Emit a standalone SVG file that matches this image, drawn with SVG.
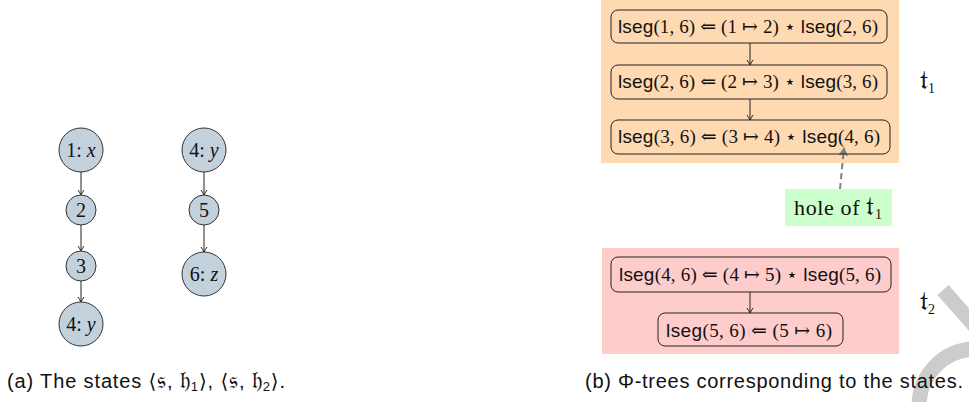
<svg xmlns="http://www.w3.org/2000/svg" width="969" height="402" viewBox="0 0 969 402">
<defs>
<marker id="arr" markerUnits="userSpaceOnUse" markerWidth="10" markerHeight="10" refX="6" refY="4" orient="auto">
<path d="M1,1 Q4,3 6,4 Q4,5 1,7" fill="none" stroke="#222" stroke-width="1"/>
</marker>
<marker id="garr" markerUnits="userSpaceOnUse" markerWidth="12" markerHeight="12" refX="8" refY="5" orient="auto">
<path d="M0,0 L9,5 L0,10 L2,5 Z" fill="#808080"/>
</marker>
<style>
.st{fill:#c3d1dc;stroke:#333;stroke-width:1}
.nt{font-family:"Liberation Serif",serif;font-size:20px;fill:#111;text-anchor:middle}
.it{font-style:italic}
.bx{fill:none;stroke:#222;stroke-width:1}
.ft{font-family:"Liberation Serif","DejaVu Serif",serif;font-size:19px;fill:#111}
.sf{font-family:"Liberation Sans",sans-serif}
.fk{font-family:"DejaVu Serif",serif}
.cap{font-family:"Liberation Sans","DejaVu Sans",sans-serif;font-size:20px;fill:#111}
.e{stroke:#222;stroke-width:1;fill:none;marker-end:url(#arr)}
</style>
</defs>
<rect width="969" height="402" fill="#fff"/>
<!-- watermark -->
<g fill="none" stroke="#cccccc" stroke-width="15">
<path d="M943,290 L980,332"/>
<path d="M919,405 A57,57 0 0 1 976,349"/>
</g>
<!-- backgrounds -->
<rect x="601" y="0" width="298" height="163" fill="#ffd9b2"/>
<rect x="602" y="248" width="297" height="106" fill="#ffcccc"/>
<rect x="785" y="189" width="107" height="37" fill="#ccffcc"/>
<g id="connectors">
<line class="e" x1="81" y1="172" x2="81" y2="195"/>
<line class="e" x1="81" y1="225" x2="81" y2="251"/>
<line class="e" x1="81" y1="281" x2="81" y2="302"/>
<line class="e" x1="204" y1="172" x2="204" y2="195"/>
<line class="e" x1="204" y1="225" x2="204" y2="252"/>
<line class="e" x1="750" y1="43" x2="750" y2="65"/>
<line class="e" x1="750" y1="99" x2="750" y2="120"/>
<line class="e" x1="750" y1="292" x2="750" y2="313"/>
<line x1="840" y1="189" x2="844" y2="148" stroke="#808080" stroke-width="2" stroke-dasharray="6,4" marker-end="url(#garr)"/>
</g>
<g id="n1x"><circle class="st" cx="81" cy="150" r="22"/><text class="nt" x="81" y="157">1: <tspan class="it">x</tspan></text></g>
<g id="n2"><circle class="st" cx="81" cy="210" r="15"/><text class="nt" x="81" y="217">2</text></g>
<g id="n3"><circle class="st" cx="81" cy="266" r="15"/><text class="nt" x="81" y="273">3</text></g>
<g id="n4y"><circle class="st" cx="81" cy="324" r="22"/><text class="nt" x="81" y="331">4: <tspan class="it">y</tspan></text></g>
<g id="m4y"><circle class="st" cx="204" cy="150" r="22"/><text class="nt" x="204" y="157">4: <tspan class="it">y</tspan></text></g>
<g id="m5"><circle class="st" cx="204" cy="210" r="15"/><text class="nt" x="204" y="217">5</text></g>
<g id="m6z"><circle class="st" cx="204" cy="274" r="22"/><text class="nt" x="204" y="281">6: <tspan class="it">z</tspan></text></g>
<g id="b1"><rect class="bx" x="611" y="10" width="276" height="33" rx="7"/><text class="ft" x="618" y="33" textLength="260"><tspan class="sf">lseg</tspan>(1, 6) ⇐ (1 ↦ 2) ⋆ <tspan class="sf">lseg</tspan>(2, 6)</text></g>
<g id="b2"><rect class="bx" x="611" y="65" width="276" height="34" rx="7"/><text class="ft" x="618" y="88" textLength="260"><tspan class="sf">lseg</tspan>(2, 6) ⇐ (2 ↦ 3) ⋆ <tspan class="sf">lseg</tspan>(3, 6)</text></g>
<g id="b3"><rect class="bx" x="611" y="120" width="279" height="34" rx="7"/><text class="ft" x="618" y="143" textLength="262"><tspan class="sf">lseg</tspan>(3, 6) ⇐ (3 ↦ 4) ⋆ <tspan class="sf">lseg</tspan>(4, 6)</text></g>
<g id="b4"><rect class="bx" x="611" y="257" width="280" height="35" rx="7"/><text class="ft" x="619" y="281" textLength="262"><tspan class="sf">lseg</tspan>(4, 6) ⇐ (4 ↦ 5) ⋆ <tspan class="sf">lseg</tspan>(5, 6)</text></g>
<g id="b5"><rect class="bx" x="658" y="313" width="185" height="33" rx="7"/><text class="ft" x="666" y="337" textLength="166"><tspan class="sf">lseg</tspan>(5, 6) ⇐ (5 ↦ 6)</text></g>
<g id="hole"><text class="ft" x="794" y="215" style="font-size:22px" textLength="88">hole of <tspan class="fk" style="font-size:26px">𝔱</tspan><tspan style="font-size:14px" dy="4">1</tspan></text></g>
<g id="t1"><text class="ft" x="920" y="89"><tspan class="fk" style="font-size:27px">𝔱</tspan><tspan style="font-size:14px" dy="4">1</tspan></text></g>
<g id="t2"><text class="ft" x="920" y="310"><tspan class="fk" style="font-size:27px">𝔱</tspan><tspan style="font-size:14px" dy="4">2</tspan></text></g>
<text class="cap" x="7" y="388" textLength="278">(a) The states ⟨<tspan class="fk" style="font-size:23px">𝔰</tspan>, <tspan class="fk" style="font-size:23px">𝔥</tspan><tspan style="font-size:13px" dy="3">1</tspan><tspan dy="-3">⟩, ⟨</tspan><tspan class="fk" style="font-size:23px">𝔰</tspan>, <tspan class="fk" style="font-size:23px">𝔥</tspan><tspan style="font-size:13px" dy="3">2</tspan><tspan dy="-3">⟩.</tspan></text>
<text class="cap" x="585" y="388" textLength="378">(b) Φ-trees corresponding to the states.</text>
</svg>
